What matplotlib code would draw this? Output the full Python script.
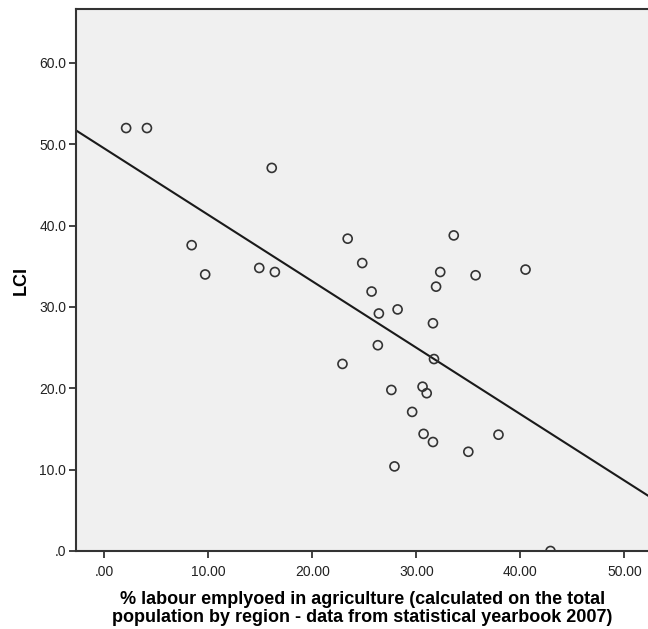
import numpy as np
import matplotlib
matplotlib.use("Agg")
import matplotlib.pyplot as plt
from matplotlib.ticker import FuncFormatter

# % labour employed in agriculture
agri = [2.1, 4.1, 16.1, 8.4, 9.7, 14.9, 16.4,
        23.4, 33.6, 24.8, 32.3, 35.7, 40.5, 31.9, 25.7, 26.4, 28.2, 31.6,
        26.3, 31.7, 22.9, 27.6, 30.6, 31.0, 29.6, 30.7, 31.6, 37.9, 35.0,
        27.9, 42.9]
# LCI
lci = [52.0, 52.0, 47.1, 37.6, 34.0, 34.8, 34.3,
       38.4, 38.8, 35.4, 34.3, 33.9, 34.6, 32.5, 31.9, 29.2, 29.7, 28.0,
       25.3, 23.6, 23.0, 19.8, 20.2, 19.4, 17.1, 14.4, 13.4, 14.3, 12.2,
       10.4, 0.0]

x_ticks = [0, 10, 20, 30, 40, 50]
y_ticks = [0, 10, 20, 30, 40, 50, 60]

plt.rcParams['font.family'] = ['Liberation Sans', 'DejaVu Sans']

fig = plt.figure(figsize=(6.48, 6.29), dpi=100)
ax = fig.add_axes([76/648, 78/629, 1 - 76/648 + 0.002, (551 - 9.3)/629])
ax.set_facecolor('#f0f0f0')

x = np.array(agri)
y = np.array(lci)
slope, intercept = np.polyfit(x, y, 1)
xl = np.array([-2.72, 52.4])
ax.plot(xl, intercept + slope * xl, color='#1a1a1a', lw=1.5, zorder=2)

ax.scatter(x, y, s=42, facecolors='none', edgecolors='#333333', linewidths=1.2,
           zorder=3, clip_on=True)

ax.set_xlim(-2.72, 52.4)
ax.set_ylim(0, 66.6)
ax.set_xticks(x_ticks)
ax.set_yticks(y_ticks)

def fmt_x(v, pos):
    s = f"{v:.2f}"
    return s[1:] if s.startswith("0") else s

def fmt_y(v, pos):
    s = f"{v:.1f}"
    return s[1:] if s.startswith("0") else s

ax.xaxis.set_major_formatter(FuncFormatter(fmt_x))
ax.yaxis.set_major_formatter(FuncFormatter(fmt_y))
ax.tick_params(axis='both', direction='out', length=5, width=1.2,
               labelsize=10, colors='#222222')
ax.tick_params(axis='x', pad=5)
ax.tick_params(axis='y', pad=2)

for sp in ax.spines.values():
    sp.set_color('#333333')
    sp.set_linewidth(1.5)

ax.set_ylabel('LCI', fontsize=13, fontweight='bold', labelpad=7)
ax.set_xlabel('% labour emplyoed in agriculture (calculated on the total\n'
              'population by region - data from statistical yearbook 2007)',
              fontsize=13, fontweight='bold', linespacing=1.08, labelpad=9)

fig.savefig('out.png', dpi=100)
